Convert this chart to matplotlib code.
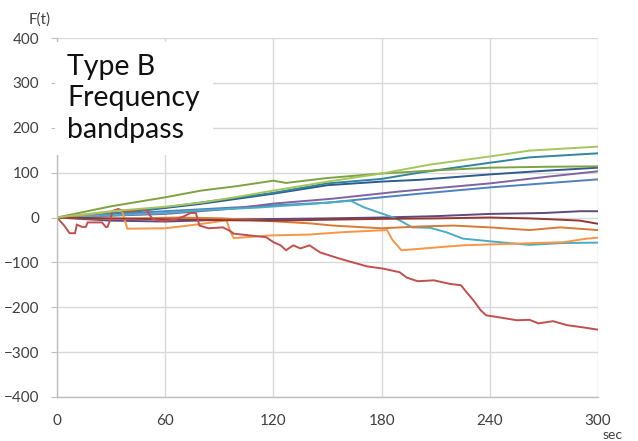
import matplotlib
matplotlib.use("Agg")
import matplotlib.pyplot as plt

# breakpoints: time (sec) and F(t)
t_green1 = [0, 30, 60, 80, 100, 120, 127, 150, 180, 210, 240, 270, 300]
f_green1 = [0, 25, 45, 60, 70, 82, 77, 88, 98, 105, 111, 113, 114]

t_green2 = [0, 30, 60, 80, 100, 120, 150, 180, 207, 240, 262, 300]
f_green2 = [0, 14, 24, 33, 46, 60, 80, 98, 118, 136, 149, 158]

t_teal = [0, 40, 79, 120, 150, 180, 201, 240, 262, 300]
f_teal = [0, 12, 33, 55, 76, 86, 100, 122, 134, 143]

t_navy = [0, 40, 79, 120, 150, 180, 201, 240, 270, 300]
f_navy = [0, 12, 30, 53, 72, 80, 84, 96, 104, 111]

t_purple = [0, 60, 98, 120, 153, 190, 201, 240, 270, 300]
f_purple = [0, 8, 20, 31, 42, 58, 62, 76, 90, 103]

t_blue = [0, 60, 120, 150, 180, 201, 240, 270, 300]
f_blue = [0, 14, 27, 33, 45, 53, 67, 76, 85]

t_aqua = [0, 30, 60, 79, 111, 140, 159, 163, 170, 180, 188, 197, 207, 216, 225, 240, 262, 280, 300]
f_aqua = [0, 5, 10, 16, 22, 30, 36, 37, 23, 9, -2, -22, -23, -33, -47, -53, -61, -57, -56]

t_dpurple = [0, 30, 60, 100, 130, 150, 180, 210, 240, 270, 290, 300]
f_dpurple = [0, -7, -9, -4, -3, -2, 0, 3, 8, 10, 14, 14]

t_dred = [0, 30, 60, 90, 120, 150, 180, 210, 240, 262, 280, 290, 300]
f_dred = [0, -2, -4, -6, -7, -5, -3, -2, 0, -2, -5, -7, -14]

t_brown = [0, 30, 68, 92, 114, 140, 153, 180, 201, 220, 240, 262, 279, 300]
f_brown = [0, -3, 0, -2, -7, -13, -18, -24, -20, -18, -22, -28, -22, -28]

t_orange = [0, 20, 36, 39, 60, 79, 94, 96, 98, 118, 140, 157, 183, 186, 191, 225, 281, 294, 300]
f_orange = [0, 8, 16, -25, -24, -15, -6, -30, -46, -40, -38, -33, -28, -50, -73, -62, -55, -47, -45]

t_red = [0, 4, 7, 10, 11, 14, 16, 17, 25, 27, 28, 29, 31, 34, 37, 43, 46, 50, 51, 53, 58, 65,
         70, 74, 77, 79, 84, 92, 96, 98, 116, 120, 124, 127, 131, 135, 140, 146, 157, 164, 172,
         181, 190, 194, 200, 209, 218, 224, 227, 231, 235, 238, 246, 255, 262, 267, 275, 283, 292, 300]
f_red = [0, -18, -35, -35, -16, -21, -21, -11, -11, -21, -21, -11, 15, 19, 14, 15, 19, 15, 8, -3, -8, -5,
         2, 10, 10, -18, -24, -22, -30, -36, -44, -55, -62, -73, -62, -69, -62, -78, -92, -100, -109,
         -114, -122, -134, -142, -140, -148, -151, -166, -185, -207, -218, -223, -229, -228, -236, -231, -240, -245, -250]

x_ticks = [0, 60, 120, 180, 240, 300]
y_ticks = [-400, -300, -200, -100, 0, 100, 200, 300, 400]

series = [
    (t_navy, f_navy, "#2F5B8F"),
    (t_teal, f_teal, "#31859C"),
    (t_blue, f_blue, "#4F81BD"),
    (t_purple, f_purple, "#8064A2"),
    (t_dpurple, f_dpurple, "#5F497A"),
    (t_aqua, f_aqua, "#4BACC6"),
    (t_brown, f_brown, "#D77A35"),
    (t_orange, f_orange, "#F79646"),
    (t_dred, f_dred, "#943634"),
    (t_red, f_red, "#C0504D"),
    (t_green1, f_green1, "#7FA243"),
    (t_green2, f_green2, "#A5C65F"),
]

plt.rcParams["font.family"] = ["Lato", "DejaVu Sans"]

fig = plt.figure(figsize=(6.38, 4.41), dpi=100)
ax = fig.add_axes([57 / 638, 1 - 397 / 441, 541 / 638, 359 / 441])

for t, f, c in series:
    ax.plot(t, f, color=c, lw=1.4, solid_joinstyle="miter")

ax.set_xlim(0, 300)
ax.set_ylim(-400, 400)
ax.set_xticks(x_ticks)
ax.set_yticks(y_ticks)
ax.grid(True, color="#D9D9D9", lw=1.0)
ax.set_axisbelow(True)

for s in ["top", "right"]:
    ax.spines[s].set_visible(False)
for s in ["left", "bottom"]:
    ax.spines[s].set_color("#BFBFBF")
    ax.spines[s].set_linewidth(1.0)

ax.tick_params(axis="y", length=4, color="#BFBFBF", pad=9, labelsize=11, labelcolor="#404040")
ax.tick_params(axis="x", length=0, pad=12, labelsize=11, labelcolor="#404040")

ax.text(0.019, 0.955, "Type B\nFrequency\nbandpass", transform=ax.transAxes,
        fontsize=20.5, va="top", ha="left", color="#111111", linespacing=1.25,
        bbox=dict(facecolor="white", edgecolor="none", pad=9))

fig.text(40 / 638, 1 - 20 / 441, "F(t)", ha="center", va="center", fontsize=11, color="#404040")
fig.text(613 / 638, 1 - 435 / 441, "sec", ha="center", va="center", fontsize=10, color="#404040")

fig.savefig("out.png", dpi=100)
